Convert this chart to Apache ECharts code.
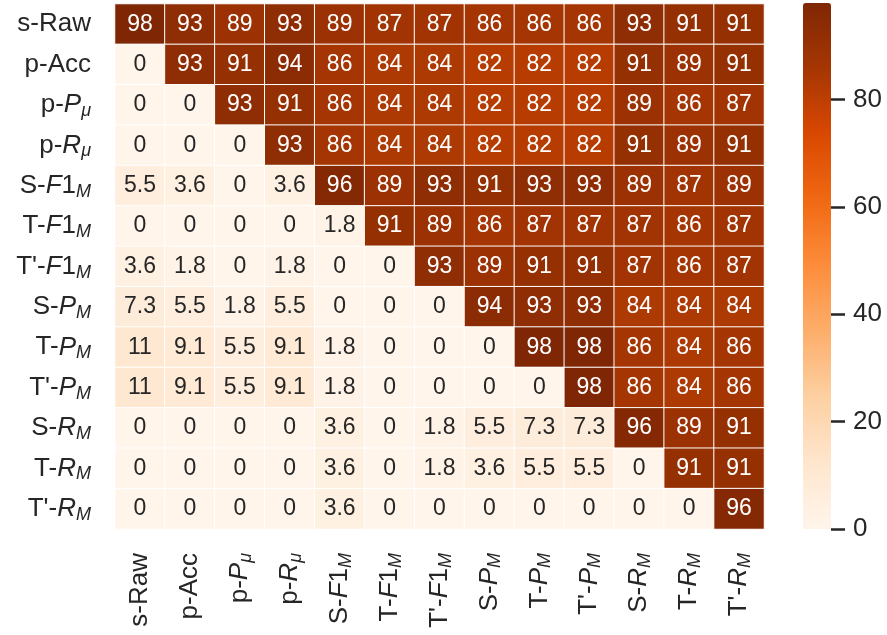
<!DOCTYPE html>
<html>
<head>
<meta charset="utf-8">
<script src="https://cdn.jsdelivr.net/npm/echarts@6/dist/echarts.min.js"></script>
<style>
  html, body { margin: 0; padding: 0; background: #fff; }
  #chart { width: 887px; height: 635px; }
</style>
</head>
<body>
<div id="chart"></div>
<script>
// Metric names; "_" marks the start of a subscript
const metrics = [
  "s-Raw", "p-Acc", "p-P_μ", "p-R_μ",
  "S-F1_M", "T-F1_M", "T'-F1_M",
  "S-P_M", "T-P_M", "T'-P_M",
  "S-R_M", "T-R_M", "T'-R_M"
];

// Agreement matrix (%), one array per row metric, columns in metric order
const rowSRaw  = [98, 93, 89, 93, 89, 87, 87, 86, 86, 86, 93, 91, 91];
const rowPAcc  = [0, 93, 91, 94, 86, 84, 84, 82, 82, 82, 91, 89, 91];
const rowPPmu  = [0, 0, 93, 91, 86, 84, 84, 82, 82, 82, 89, 86, 87];
const rowPRmu  = [0, 0, 0, 93, 86, 84, 84, 82, 82, 82, 91, 89, 91];
const rowSF1   = [5.5, 3.6, 0, 3.6, 96, 89, 93, 91, 93, 93, 89, 87, 89];
const rowTF1   = [0, 0, 0, 0, 1.8, 91, 89, 86, 87, 87, 87, 86, 87];
const rowT2F1  = [3.6, 1.8, 0, 1.8, 0, 0, 93, 89, 91, 91, 87, 86, 87];
const rowSP    = [7.3, 5.5, 1.8, 5.5, 0, 0, 0, 94, 93, 93, 84, 84, 84];
const rowTP    = [11, 9.1, 5.5, 9.1, 1.8, 0, 0, 0, 98, 98, 86, 84, 86];
const rowT2P   = [11, 9.1, 5.5, 9.1, 1.8, 0, 0, 0, 0, 98, 86, 84, 86];
const rowSR    = [0, 0, 0, 0, 3.6, 0, 1.8, 5.5, 7.3, 7.3, 96, 89, 91];
const rowTR    = [0, 0, 0, 0, 3.6, 0, 1.8, 3.6, 5.5, 5.5, 0, 91, 91];
const rowT2R   = [0, 0, 0, 0, 3.6, 0, 0, 0, 0, 0, 0, 0, 96];

const rows = [rowSRaw, rowPAcc, rowPPmu, rowPRmu, rowSF1, rowTF1, rowT2F1,
              rowSP, rowTP, rowT2P, rowSR, rowTR, rowT2R];

const colorbarTicks = [0, 20, 40, 60, 80];
const valueMax = 98;

// matplotlib "Oranges" colour stops
const oranges = ['#fff5eb', '#fee6ce', '#fdd0a2', '#fdae6b', '#fd8d3c',
                 '#f16913', '#d94801', '#a63603', '#7f2704'];

const FONT = '"Liberation Sans", Arial, sans-serif';
const INK = '#262626';

// Turn "T'-F1_M" into rich text: prefix upright, symbol italic (digits upright), subscript italic
function labelRich(name) {
  const dash = name.indexOf('-');
  const us = name.indexOf('_');
  if (us < 0) return '{n|' + name + '}';
  const prefix = name.slice(0, dash + 1);
  const sym = name.slice(dash + 1, us);
  const sub = name.slice(us + 1);
  let out = '{n|' + prefix + '}';
  for (const ch of sym) {
    out += /[0-9]/.test(ch) ? '{n|' + ch + '}' : '{i|' + ch + '}';
  }
  out += '{s|' + sub + '}';
  return out;
}

const rich = {
  n: { fontSize: 26, fontFamily: FONT, color: INK, lineHeight: 30 },
  i: { fontSize: 26, fontFamily: FONT, color: INK, fontStyle: 'italic', lineHeight: 30 },
  s: { fontSize: 18, fontFamily: FONT, color: INK, fontStyle: 'italic',
       lineHeight: 18, verticalAlign: 'bottom' }
};

const cells = [];
rows.forEach((row, r) => {
  row.forEach((v, c) => {
    cells.push({
      value: [c, r, v],
      label: { color: v > 50 ? '#ffffff' : INK }
    });
  });
});

const chart = echarts.init(document.getElementById('chart'), null, { renderer: 'canvas' });

chart.setOption({
  animation: false,
  backgroundColor: '#ffffff',
  grid: [
    { left: 115, top: 4, width: 649, height: 525 },
    // thin strip along the right edge of the colour bar, carrying its tick axis
    { left: 831, top: 3, width: 1, height: 526 }
  ],
  xAxis: [
    {
      type: 'category', gridIndex: 0, data: metrics,
      axisLine: { show: false }, axisTick: { show: false }, splitLine: { show: false },
      axisLabel: {
        rotate: 90, margin: 24, interval: 0,
        formatter: labelRich, rich: rich
      }
    },
    { type: 'value', gridIndex: 1, show: false, min: 0, max: 1 }
  ],
  yAxis: [
    {
      type: 'category', gridIndex: 0, data: metrics, inverse: true,
      axisLine: { show: false }, axisTick: { show: false }, splitLine: { show: false },
      axisLabel: { margin: 24, interval: 0, formatter: labelRich, rich: rich }
    },
    {
      type: 'value', gridIndex: 1, position: 'right', min: 0, max: valueMax,
      axisLine: { show: false }, splitLine: { show: false },
      axisTick: {
        show: true, inside: false, length: 14, customValues: colorbarTicks,
        lineStyle: { color: INK, width: 2.5 }
      },
      axisLabel: {
        customValues: colorbarTicks, margin: 21,
        fontSize: 26, fontFamily: FONT, color: INK
      }
    }
  ],
  visualMap: {
    type: 'continuous',
    min: 0, max: valueMax,
    seriesIndex: 0,
    calculable: false,
    orient: 'vertical',
    left: 803, top: 3, padding: 0,
    itemWidth: 28, itemHeight: 526,
    text: null,
    showLabel: false,
    inRange: { color: oranges }
  },
  series: [{
    type: 'heatmap',
    xAxisIndex: 0, yAxisIndex: 0,
    data: cells,
    itemStyle: { borderColor: '#ffffff', borderWidth: 1 },
    label: {
      show: true, fontSize: 23, fontFamily: FONT,
      formatter: p => String(p.value[2])
    },
    emphasis: { disabled: true }
  }]
});
</script>
</body>
</html>
